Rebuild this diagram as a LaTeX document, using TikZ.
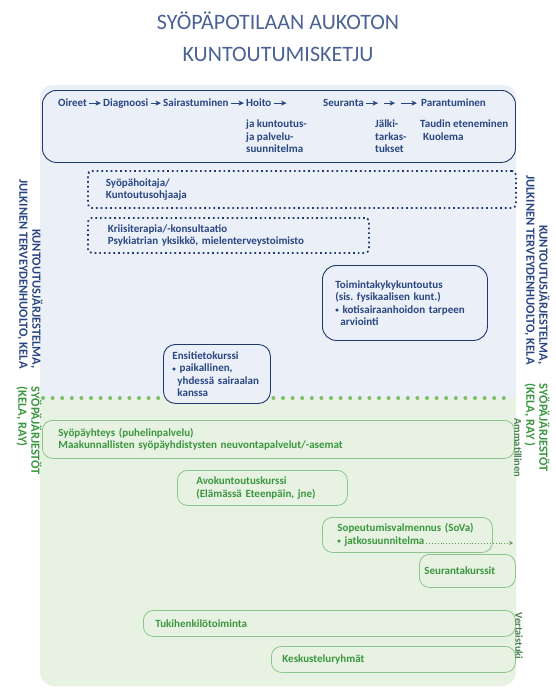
\documentclass[tikz,border=0pt]{standalone}
\usepackage{fontspec}
\setmainfont{Carlito}
\usetikzlibrary{arrows.meta}
\definecolor{navy}{HTML}{1F3A6B}
\definecolor{navytext}{HTML}{2A4682}
\definecolor{titleblue}{HTML}{4A6394}
\definecolor{bluebg}{HTML}{EAEFF8}
\definecolor{greenbg}{HTML}{E7F2E2}
\definecolor{greentext}{HTML}{3A963F}
\definecolor{greenborder}{HTML}{8EC58A}
\definecolor{greendot}{HTML}{7DBE6E}
\definecolor{darkgreen}{HTML}{477F4D}
\newcommand\smbul{{\fontsize{7}{7}\selectfont\raisebox{0.5pt}{•}}}
\begin{document}
\begin{tikzpicture}[x=1pt,y=-1pt,
  txt/.style={font=\fontsize{11}{12.5}\selectfont\bfseries},
  navytxt/.style={txt, text=navytext},
  greentxt/.style={txt, text=greentext},
  nbox/.style={draw=navy, fill=bluebg, line width=0.9pt, rounded corners=14pt, anchor=north west, inner ysep=0pt, align=left, navytxt},
  dbox/.style={draw=navy, line width=1.8pt, dash pattern=on 1.7pt off 3pt, rounded corners=4pt, anchor=north west, inner ysep=0pt, align=left, navytxt},
  gbox/.style={draw=greenborder, fill=greenbg, line width=0.8pt, rounded corners=10pt, anchor=north west, inner ysep=0pt, align=left, greentxt},
  ptxt/.style={navytxt, inner sep=1pt, text height=1.6ex, text depth=0.4ex, anchor=base west},
  ltxt/.style={navytxt, inner sep=0pt, anchor=north west, align=left},
  parr/.style={draw=navytext, line width=0.8pt, shorten >=1pt, shorten <=1pt, -{Stealth[length=5.5pt,width=5pt,inset=1.5pt]}},
  vlab/.style={rotate=-90, font=\fontsize{12.5}{13}\selectfont\bfseries, inner sep=0pt},
  slab/.style={rotate=-90, font=\fontsize{10.5}{11}\selectfont\bfseries, inner sep=0pt, text=darkgreen},
]
\useasboundingbox (0,0) rectangle (556,699);
% backgrounds
\fill[greenbg, rounded corners=14pt] (40,450) rectangle (516,686);
\fill[greenbg] (40,398) rectangle (516,500);
\fill[bluebg, rounded corners=12pt] (40,85) rectangle (516,200);
\fill[bluebg] (40,150) rectangle (516,398);
% separator
\coordinate (sepL) at (43,398);
\coordinate (sepR) at (513,398);
\draw[greendot, line width=4pt, line cap=round, dash pattern=on 0pt off 9.6pt] (sepL) -- (sepR);
% title
\node[font=\fontsize{22}{32}\selectfont, text=titleblue, align=center] (title) at (278,37) {SYÖPÄPOTILAAN AUKOTON\\KUNTOUTUMISKETJU};
% process box
\node[nbox, minimum width=473pt, minimum height=72pt] (proc) at (42,90) {};
\node[ptxt] (oir) at (57,106) {Oireet};
\node[ptxt] (dia) at (102,106) {Diagnoosi};
\node[ptxt] (sai) at (162,106) {Sairastuminen};
\node[ptxt] (hoi) at (245,106) {Hoito};
\node[ptxt] (seu) at (322,106) {Seuranta};
\node[ptxt] (par) at (420,106) {Parantuminen};
\coordinate (hoiend) at ([xshift=15pt]hoi.east);
\coordinate (a1) at ([xshift=14pt]seu.east);
\coordinate (a2) at ([xshift=18pt]seu.east);
\coordinate (a3) at ([xshift=31pt]seu.east);
\coordinate (a4) at ([xshift=35pt]seu.east);
\draw[parr] (oir.east) -- (dia.west);
\draw[parr] (dia.east) -- (sai.west);
\draw[parr] (sai.east) -- (hoi.west);
\draw[parr] (hoi.east) -- (hoiend);
\draw[parr] (seu.east) -- (a1);
\draw[parr] (a2) -- (a3);
\draw[parr, shorten >=3pt] (a4) -- (par.west);
\node[ltxt] (kunt) at (246,120) {ja kuntoutus-\\ja palvelu-\\suunnitelma};
\node[ltxt] (jalki) at (375,120) {Jälki-\\tarkas-\\tukset};
\node[ltxt] (taud) at (420,120) {Taudin eteneminen\\\hspace{3pt}Kuolema};
% navy boxes
\node[dbox, text width=392pt, inner xsep=18pt, minimum height=37pt] (nurse) at (87,170) {Syöpähoitaja/\\Kuntoutusohjaaja};
\node[dbox, text width=241pt, inner xsep=20pt, minimum height=35pt] (crisis) at (87,217) {Kriisiterapia/-konsultaatio\\Psykiatrian~yksikkö,~mielenterveystoimisto};
\node[nbox, text width=139pt, inner xsep=13pt, minimum height=75pt] (toim) at (322,265) {Toimintakykykuntoutus\\(sis.~fysikaalisen~kunt.)\\\smbul~kotisairaanhoidon~tarpeen\\\hspace{5pt}arviointi};
\node[nbox, rounded corners=12pt, text width=89pt, inner xsep=9pt, minimum height=59pt] (ensi) at (163,344) {Ensitietokurssi\\\smbul~paikallinen,\\\hspace{5pt}yhdessä~sairaalan\\\hspace{5pt}kanssa};
% green boxes
\node[gbox, text width=440pt, inner xsep=16pt, minimum height=38pt] (yht) at (42,420) {Syöpäyhteys~(puhelinpalvelu)\\Maakunnallisten~syöpäyhdistysten~neuvontapalvelut/-asemat};
\node[gbox, text width=132pt, inner xsep=19pt, minimum height=35pt] (avo) at (177,470) {Avokuntoutuskurssi\\(Elämässä~Eteenpäin,~jne)};
\node[gbox, text width=140pt, inner xsep=15pt, minimum height=35pt] (sova) at (322,517) {Sopeutumisvalmennus~(SoVa)\\\smbul~jatkosuunnitelma};
\node[gbox, text width=86pt, inner xsep=5pt, minimum height=33pt] (seur) at (419,554) {Seurantakurssit};
\node[gbox, text width=348pt, inner xsep=12pt, minimum height=26pt] (tuki) at (143,610) {Tukihenkilötoiminta};
\node[gbox, text width=222pt, inner xsep=11pt, minimum height=26pt] (kesk) at (271,646) {Keskusteluryhmät};
\coordinate (sovaA) at (426,543);
\coordinate (sovaB) at (513,543);
\draw[draw=greendot!80!black, line width=0.9pt, dotted, -{Stealth[length=4pt,width=4pt]}] (sovaA) -- (sovaB);
% side labels
\node[vlab, text=navytext, align=right] (lvl) at (30,274) {KUNTOUTUSJÄRJESTELMA,\\JULKINEN TERVEYDENHUOLTO, KELA};
\node[vlab, text=navytext, align=right] (rvl) at (537,270) {KUNTOUTUSJÄRJESTELMA,\\JULKINEN TERVEYDENHUOLTO, KELA};
\node[vlab, text=greentext, align=left] (lgl) at (29,431) {SYÖPÄJÄRJESTÖT\\(KELA, RAY)};
\node[vlab, text=greentext, align=left] (rgl) at (537,428) {SYÖPÄJÄRJESTÖT\\(KELA, RAY )};
\node[slab] (amm) at (518,448) {Ammatillinen};
\node[slab] (vert) at (519,636) {Vertaistuki};
\end{tikzpicture}
\end{document}
